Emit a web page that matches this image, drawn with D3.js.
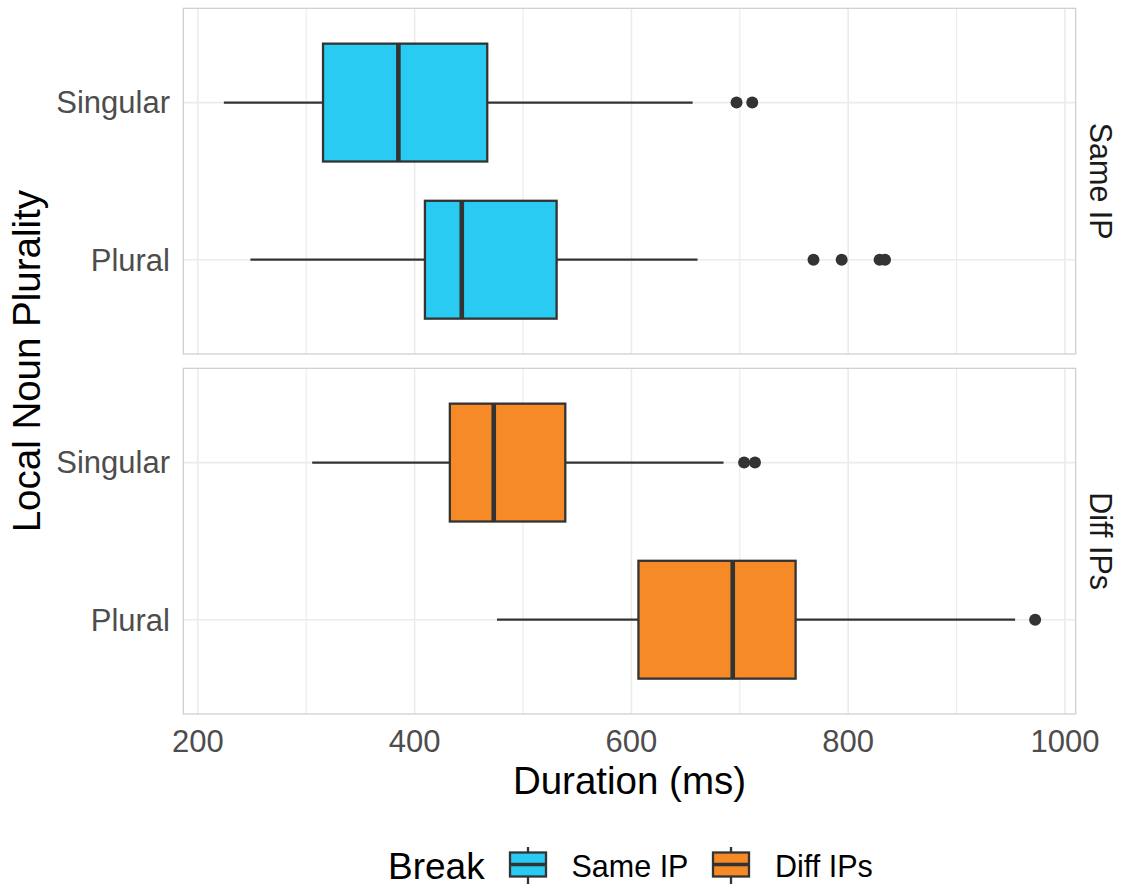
<!DOCTYPE html>
<html>
<head>
<meta charset="utf-8">
<script src="https://cdn.jsdelivr.net/npm/d3@7"></script>
<style>
  html, body { margin: 0; padding: 0; background: #fff; }
  svg { display: block; font-family: "Liberation Sans", Arial, Helvetica, sans-serif; }
</style>
</head>
<body>
<svg id="chart" width="1121" height="890"></svg>
<script>
// ---- data ----
const categories = ["Singular", "Plural"];
const breaks = ["Same IP", "Diff IPs"];
const colors = ["#29CBF2", "#F58A27"];
const xTicks = [200, 400, 600, 800, 1000];
const xMinor = [300, 500, 700, 900];

// per panel (Same IP, Diff IPs), per category (Singular, Plural)
const whiskerLow  = [[224, 248.5], [305.5, 476]];
const q1          = [[315.5, 409.5], [432.5, 606.5]];
const medians     = [[385, 443.5], [473, 693.5]];
const q3          = [[467, 531], [539, 751.5]];
const whiskerHigh = [[656.5, 661], [685, 954]];
const outliers    = [[[697, 711.5], [768, 794, 829, 834]], [[704, 714], [972.5]]];

// ---- layout ----
const svg = d3.select("#chart");
const left = 183.3, right = 1075.7;
const panels = [{top: 8.3, bottom: 354}, {top: 368.3, bottom: 714}];

const allVals = [];
for (let p = 0; p < 2; p++) for (let c = 0; c < 2; c++) {
  allVals.push(whiskerLow[p][c], whiskerHigh[p][c], ...outliers[p][c]);
}
const [mn, mx] = d3.extent(allVals);
const pad = (mx - mn) * 0.05;
const x = d3.scaleLinear().domain([mn - pad, mx + pad]).range([left, right]);

const ink = "#333333";

panels.forEach((pn, p) => {
  const step = (pn.bottom - pn.top) / 2.2;
  const yc = c => pn.top + (0.6 + c) * step;
  const bw = 0.75 * step;
  const g = svg.append("g");

  // grid
  g.selectAll(".minor").data(xMinor).join("line")
    .attr("x1", d => x(d)).attr("x2", d => x(d))
    .attr("y1", pn.top).attr("y2", pn.bottom)
    .attr("stroke", "#ebebeb").attr("stroke-width", 1.1);
  g.selectAll(".major").data(xTicks).join("line")
    .attr("x1", d => x(d)).attr("x2", d => x(d))
    .attr("y1", pn.top).attr("y2", pn.bottom)
    .attr("stroke", "#ebebeb").attr("stroke-width", 1.6);
  g.selectAll(".hgrid").data(categories).join("line")
    .attr("x1", left).attr("x2", right)
    .attr("y1", (d, i) => yc(i)).attr("y2", (d, i) => yc(i))
    .attr("stroke", "#ebebeb").attr("stroke-width", 1.6);

  // y tick labels
  g.selectAll(".ylab").data(categories).join("text")
    .attr("x", 170).attr("y", (d, i) => yc(i))
    .attr("dy", "0.35em").attr("text-anchor", "end")
    .attr("font-size", 31).attr("fill", "#4d4d4d").text(d => d);

  categories.forEach((cat, c) => {
    const cy = yc(c);
    // whiskers
    g.append("line").attr("x1", x(whiskerLow[p][c])).attr("x2", x(q1[p][c]))
      .attr("y1", cy).attr("y2", cy).attr("stroke", ink).attr("stroke-width", 2.3);
    g.append("line").attr("x1", x(q3[p][c])).attr("x2", x(whiskerHigh[p][c]))
      .attr("y1", cy).attr("y2", cy).attr("stroke", ink).attr("stroke-width", 2.3);
    // box
    g.append("rect").attr("x", x(q1[p][c])).attr("y", cy - bw / 2)
      .attr("width", x(q3[p][c]) - x(q1[p][c])).attr("height", bw)
      .attr("fill", colors[p]).attr("stroke", ink).attr("stroke-width", 2.3);
    // median
    g.append("line").attr("x1", x(medians[p][c])).attr("x2", x(medians[p][c]))
      .attr("y1", cy - bw / 2).attr("y2", cy + bw / 2)
      .attr("stroke", ink).attr("stroke-width", 4.6);
    // outliers
    g.selectAll(null).data(outliers[p][c]).join("circle")
      .attr("cx", d => x(d)).attr("cy", cy).attr("r", 6).attr("fill", ink);
  });

  // border
  g.append("rect").attr("x", left).attr("y", pn.top)
    .attr("width", right - left).attr("height", pn.bottom - pn.top)
    .attr("fill", "none").attr("stroke", "#cccccc").attr("stroke-width", 1.2);

  // strip label
  const sy = (pn.top + pn.bottom) / 2;
  g.append("text").attr("transform", `translate(1101,${sy}) rotate(90)`)
    .attr("text-anchor", "middle").attr("dy", "0.35em")
    .attr("font-size", 30.5).attr("fill", "#1a1a1a").text(breaks[p]);
});

// x axis labels
svg.selectAll(".xlab").data(xTicks).join("text")
  .attr("x", d => x(d)).attr("y", 752)
  .attr("text-anchor", "middle").attr("font-size", 31).attr("fill", "#4d4d4d")
  .text(d => d);

// axis titles
svg.append("text").attr("x", (left + right) / 2).attr("y", 794)
  .attr("text-anchor", "middle").attr("font-size", 38.5).attr("fill", "#000")
  .text("Duration (ms)");
svg.append("text").attr("transform", `translate(27,${(panels[0].top + panels[1].bottom) / 2}) rotate(-90)`)
  .attr("text-anchor", "middle").attr("dy", "0.35em")
  .attr("font-size", 38.5).attr("fill", "#000").text("Local Noun Plurality");

// legend
const lg = svg.append("g");
lg.append("text").attr("x", 388).attr("y", 866).attr("dy", "0.35em")
  .attr("font-size", 37).attr("fill", "#000").text("Break");
const keyX = [510, 713], labX = [571.5, 775];
breaks.forEach((b, i) => {
  const kx = keyX[i], cy = 864.5;
  lg.append("line").attr("x1", kx + 18).attr("x2", kx + 18).attr("y1", 847).attr("y2", 884)
    .attr("stroke", ink).attr("stroke-width", 2.3);
  lg.append("rect").attr("x", kx).attr("y", cy - 12).attr("width", 36).attr("height", 24)
    .attr("fill", colors[i]).attr("stroke", ink).attr("stroke-width", 2.3);
  lg.append("line").attr("x1", kx).attr("x2", kx + 36).attr("y1", cy).attr("y2", cy)
    .attr("stroke", ink).attr("stroke-width", 3.5);
  lg.append("text").attr("x", labX[i]).attr("y", 866).attr("dy", "0.35em")
    .attr("font-size", 30.5).attr("fill", "#000").text(b);
});
</script>
</body>
</html>
